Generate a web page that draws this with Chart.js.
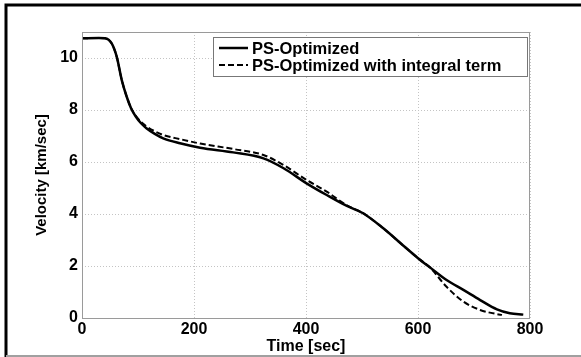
<!DOCTYPE html>
<html>
<head>
<meta charset="utf-8">
<script src="https://cdn.jsdelivr.net/npm/chart.js@4.4.1/dist/chart.umd.min.js"></script>
<style>
  html, body { margin: 0; padding: 0; background: #fff; }
  #wrap { width: 581px; height: 357px; position: relative; }
</style>
</head>
<body>
<div id="wrap"><canvas id="velocityChart" width="581" height="357"></canvas></div>
<script>
// values
const timeSec = [0, 30, 41, 53, 62, 71, 80, 88, 96, 105, 115, 130, 145, 175, 211, 270, 324, 360, 401, 437, 473, 502, 538, 574, 600, 621, 651, 681, 711, 741, 764, 788];
const psOptimized = [10.76, 10.77, 10.76, 10.56, 10.05, 9.15, 8.5, 8.05, 7.75, 7.5, 7.3, 7.08, 6.91, 6.72, 6.55, 6.37, 6.14, 5.76, 5.18, 4.73, 4.31, 4.03, 3.45, 2.78, 2.3, 1.95, 1.46, 1.08, 0.69, 0.33, 0.18, 0.13];

const timeSecIntegral = [0, 30, 41, 53, 62, 71, 80, 88, 96, 105, 115, 130, 145, 175, 211, 270, 324, 360, 401, 437, 473, 502, 538, 574, 600, 621, 651, 681, 711, 741, 750];
const psIntegral = [10.76, 10.77, 10.76, 10.56, 10.05, 9.15, 8.5, 8.06, 7.78, 7.55, 7.37, 7.18, 7.04, 6.88, 6.71, 6.5, 6.27, 5.88, 5.31, 4.86, 4.33, 4.03, 3.45, 2.78, 2.3, 1.95, 1.2, 0.63, 0.31, 0.15, 0.12];

const xTicks = [0, 200, 400, 600, 800];
const yTicks = [0, 2, 4, 6, 8, 10];

const toPoints = (xs, ys) => xs.map((x, i) => ({ x: x, y: ys[i] }));

const boldFont = (size) => ({ family: "'Liberation Sans', Arial, sans-serif", size: size, weight: 'bold' });

// plot box, outer frame and boxed legend
const framePlugin = {
  id: 'frame',
  afterDraw(chart) {
    const ctx = chart.ctx;
    const area = chart.chartArea;
    ctx.save();

    ctx.strokeStyle = '#9a9a9a';
    ctx.lineWidth = 1;
    ctx.strokeRect(area.left + 0.5, area.top + 0.5, area.right - area.left - 1, area.bottom - area.top);

    ctx.strokeStyle = '#000';
    ctx.lineWidth = 3;
    ctx.beginPath();
    ctx.moveTo(6, 357);
    ctx.lineTo(6, 5);
    ctx.lineTo(581, 5);
    ctx.stroke();

    ctx.strokeStyle = '#a0a0a0';
    ctx.lineWidth = 2;
    ctx.beginPath();
    ctx.moveTo(6, 356);
    ctx.lineTo(581, 356);
    ctx.stroke();

    const box = { left: 213, top: 37, right: 527, bottom: 76 };
    ctx.fillStyle = '#fff';
    ctx.fillRect(box.left, box.top, box.right - box.left, box.bottom - box.top);
    ctx.strokeStyle = '#777';
    ctx.lineWidth = 1;
    ctx.strokeRect(box.left + 0.5, box.top + 0.5, box.right - box.left, box.bottom - box.top);

    ctx.font = "bold 16.5px 'Liberation Sans', Arial, sans-serif";
    ctx.textBaseline = 'middle';
    ctx.fillStyle = '#000';
    chart.data.datasets.forEach((ds, i) => {
      const y = 48 + i * 17;
      ctx.strokeStyle = ds.borderColor;
      ctx.lineWidth = ds.borderWidth;
      ctx.setLineDash(ds.borderDash || []);
      ctx.beginPath();
      ctx.moveTo(219, y);
      ctx.lineTo(248, y);
      ctx.stroke();
      ctx.setLineDash([]);
      ctx.fillText(ds.label, 252, y + 1);
    });
    ctx.restore();
  }
};

new Chart(document.getElementById('velocityChart'), {
  type: 'line',
  data: {
    datasets: [{
      label: 'PS-Optimized',
      data: toPoints(timeSec, psOptimized),
      borderColor: '#000',
      borderWidth: 2.5,
      pointRadius: 0,
      cubicInterpolationMode: 'monotone'
    }, {
      label: 'PS-Optimized with integral term',
      data: toPoints(timeSecIntegral, psIntegral),
      borderColor: '#000',
      borderWidth: 2,
      borderDash: [6, 3],
      pointRadius: 0,
      cubicInterpolationMode: 'monotone'
    }]
  },
  options: {
    responsive: false,
    animation: false,
    layout: { padding: { left: 0, top: 32, right: 51, bottom: 0 } },
    plugins: {
      legend: { display: false },
      tooltip: { enabled: false }
    },
    scales: {
      x: {
        type: 'linear',
        min: 0,
        max: 800,
        afterFit: (scale) => { scale.height = 39; },
        afterBuildTicks: (scale) => { scale.ticks = xTicks.map(v => ({ value: v })); },
        grid: { color: '#c4c4c4', drawTicks: false },
        border: { display: false, dash: [1, 2] },
        ticks: { color: '#000', font: boldFont(16), padding: 2, maxRotation: 0 },
        title: { display: true, text: 'Time [sec]', color: '#000', font: boldFont(16), padding: { top: 0, bottom: 1 } }
      },
      y: {
        min: 0,
        max: 11,
        afterFit: (scale) => { scale.width = 82; },
        afterBuildTicks: (scale) => { scale.ticks = yTicks.map(v => ({ value: v })); },
        grid: { color: '#c4c4c4', drawTicks: false },
        border: { display: false, dash: [1, 2] },
        ticks: { color: '#000', font: boldFont(16), padding: 4 },
        title: { display: true, text: 'Velocity [km/sec]', color: '#000', font: boldFont(15), padding: { top: 33, bottom: 0 } }
      }
    }
  },
  plugins: [framePlugin]
});
</script>
</body>
</html>
